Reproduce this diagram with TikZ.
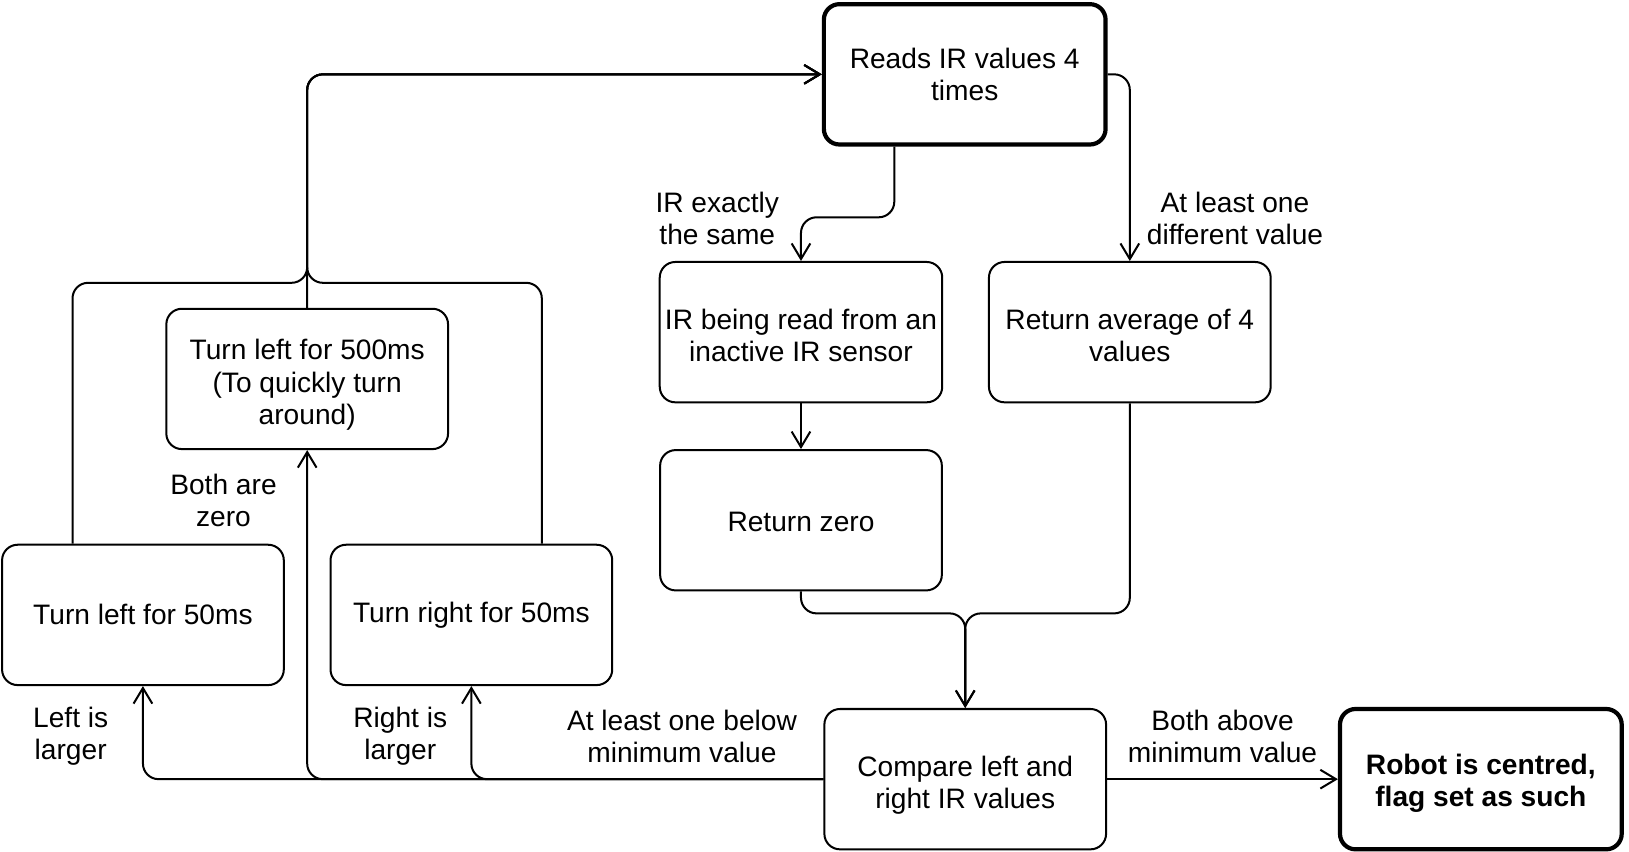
\documentclass[tikz,border=0pt]{standalone}
\usepackage{fontspec}
\setmainfont{Liberation Sans}
\usetikzlibrary{arrows.meta, positioning, calc}
\tikzset{
  stepbox/.style={rectangle, draw, rounded corners=0.3cm, line width=1.1pt,
    minimum width=5.42cm, minimum height=2.7cm, inner sep=0.1cm, align=center,
    font=\fontsize{15.4}{17.6}\selectfont, fill=white},
  keybox/.style={stepbox, line width=2.3pt},
  lbl/.style={align=center, inner sep=0, font=\fontsize{15.4}{17.6}\selectfont},
  flow/.style={-{Straight Barb[length=0.3cm, width=0.36cm]}, line width=1.1pt, rounded corners=0.3cm},
}
% invisible strut, pushes a box text a little lower
\newcommand{\sink}[1]{\rule{0pt}{#1}}

\begin{document}
\begin{tikzpicture}
\useasboundingbox (0,0) rectangle (31.34,-16.39);
%reading the sensors
\node[keybox] (reads) at (18.56,-1.43) {Reads IR values 4\\times};
\node[stepbox] (inactive) at (15.41,-6.39) {\sink{14.6pt}IR being read from an\\inactive IR sensor};
\node[stepbox, right=0.86cm of inactive] (average) {\sink{14.6pt}Return average of 4\\values};
\node[stepbox, below=0.88cm of inactive] (zero) {\sink{13pt}Return zero};
%comparing left and right
\node[stepbox] (compare) at (18.57,-14.99) {\sink{17.5pt}Compare left and\\right IR values};
\node[keybox, right=4.44cm of compare, font=\fontsize{15.4}{17.6}\selectfont\bfseries] (centred) {\sink{16pt}Robot is centred,\\flag set as such};
%turning
\node[stepbox] (left50) at (2.75,-11.83) {Turn left for 50ms};
\node[stepbox, right=0.86cm of left50] (right50) {Turn right for 50ms};
\node[stepbox] (turn500) at (5.91,-7.29) {\sink{17.5pt}Turn left for 500ms\\(To quickly turn\\around)};
%labels
\node[lbl] (same_lbl) at (13.8,-4.2) {IR exactly\\the same};
\node[lbl] (diff_lbl) at (23.76,-4.2) {At least one\\different value};
\node[lbl] (above_lbl) at (23.52,-14.16) {Both above\\minimum value};
\node[lbl] (below_lbl) at (13.12,-14.16) {At least one below\\minimum value};
\node[lbl] (right_lbl) at (7.7,-14.16) {Right is\\larger};
\node[lbl] (left_lbl) at (1.36,-14.16) {Left is\\larger};
\node[lbl] (zero_lbl) at (4.3,-9.62) {Both are\\zero};
% links
\draw[flow] ([xshift=-1.355cm]reads.south) -- ++(0,-1.36) -| (inactive.north);
\draw[flow] (reads.east) -| (average.north);
\draw[flow] (inactive) -- (zero);
\coordinate (merge) at ($(compare.north)+(0,1.82)$);
\draw[flow] (zero.south) |- (merge) -- (compare.north);
\draw[flow] (average.south) |- (merge) -- (compare.north);
\draw[flow] (compare) -- (centred);
\draw[flow] (compare.west) -| (left50.south);
\draw[flow] (compare.west) -| (turn500.south);
\draw[flow] (compare.west) -| (right50.south);
% back to the start
\coordinate (join) at ($(turn500.north)+(0,0.48)$);
\draw[flow] ([xshift=-1.355cm]left50.north) |- (join) |- (reads.west);
\draw[flow] ([xshift=1.355cm]right50.north) |- (join) |- (reads.west);
\draw[flow] (turn500.north) -- (join) |- (reads.west);
\end{tikzpicture}
\end{document}
